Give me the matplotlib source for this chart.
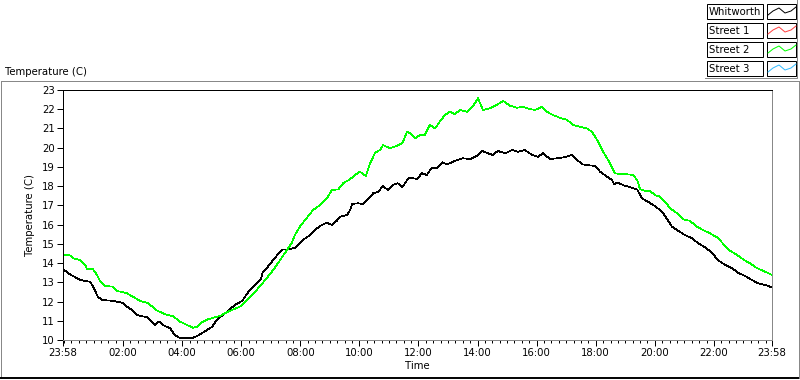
import numpy as np
from matplotlib import pyplot as plt
from matplotlib.lines import Line2D
from matplotlib.patches import Rectangle

font_size = 7.3
plt.rc('font', family='DejaVu Sans', size=font_size)

## series values, time in minutes after 23:58
t_whit = [0, 14, 35, 55, 61, 71, 79, 100, 120, 130, 140, 150, 171, 177, 187, 195, 203, 218, 227, 238,
          262, 272, 284, 303, 313, 325, 339, 349, 364, 378, 390, 402, 406, 416, 427, 437, 445, 457, 471, 481,
          492, 502, 512, 522, 536, 546, 556, 563, 577, 583, 587, 599, 609, 617, 624, 630, 640, 650, 660, 670,
          680, 689, 699, 705, 719, 729, 739, 749, 760, 770, 780, 790, 800, 812, 827, 841, 851, 863, 873, 883,
          898, 912, 924, 938, 953, 965, 975, 989, 1003, 1016, 1034, 1044, 1056, 1070, 1080, 1091, 1105, 1115, 1119, 1127,
          1137, 1152, 1166, 1176, 1188, 1202, 1217, 1227, 1237, 1249, 1263, 1278, 1290, 1304, 1318, 1330, 1345, 1359, 1371, 1385,
          1399, 1412, 1426, 1440]
whitworth = [13.68, 13.42, 13.12, 13.03, 12.77, 12.25, 12.08, 12.04, 11.94, 11.73, 11.56, 11.30, 11.18, 11.04, 10.78, 10.97, 10.78, 10.60, 10.26, 10.10,
             10.10, 10.20, 10.38, 10.69, 11.07, 11.30, 11.60, 11.82, 12.04, 12.55, 12.85, 13.16, 13.55, 13.81, 14.16, 14.47, 14.71, 14.71, 14.80, 15.03,
             15.29, 15.46, 15.72, 15.93, 16.10, 15.98, 16.20, 16.41, 16.50, 16.76, 17.07, 17.11, 17.07, 17.28, 17.45, 17.63, 17.71, 18.00, 17.80, 18.06,
             18.15, 17.94, 18.32, 18.45, 18.37, 18.67, 18.58, 18.96, 18.93, 19.24, 19.13, 19.24, 19.36, 19.45, 19.41, 19.58, 19.83, 19.71, 19.62, 19.83,
             19.71, 19.88, 19.79, 19.88, 19.62, 19.53, 19.71, 19.41, 19.45, 19.49, 19.62, 19.36, 19.13, 19.08, 19.05, 18.75, 18.49, 18.32, 18.11, 18.18,
             18.06, 17.94, 17.83, 17.37, 17.19, 16.97, 16.67, 16.28, 15.89, 15.69, 15.46, 15.29, 15.03, 14.82, 14.54, 14.16, 13.90, 13.73, 13.50, 13.33,
             13.12, 12.95, 12.86, 12.74]

t_st2 = [0, 14, 20, 35, 45, 49, 61, 69, 75, 85, 102, 110, 130, 142, 156, 173, 191, 211, 223, 238,
         252, 264, 272, 284, 294, 309, 319, 329, 343, 359, 378, 390, 400, 412, 427, 441, 455, 465, 471, 481,
         496, 508, 522, 536, 546, 559, 569, 583, 593, 603, 615, 624, 634, 644, 650, 664, 678, 689, 699, 705,
         715, 725, 735, 745, 756, 766, 776, 786, 796, 806, 821, 833, 843, 853, 867, 881, 894, 908, 922, 934,
         948, 959, 973, 983, 995, 1009, 1024, 1036, 1050, 1064, 1074, 1085, 1097, 1111, 1121, 1131, 1145, 1158, 1166, 1172,
         1182, 1192, 1202, 1213, 1223, 1233, 1247, 1259, 1273, 1288, 1300, 1314, 1328, 1340, 1355, 1369, 1381, 1395, 1410, 1422,
         1440]
street2 = [14.42, 14.40, 14.25, 14.16, 13.90, 13.68, 13.68, 13.38, 13.08, 12.81, 12.77, 12.55, 12.43, 12.25, 12.04, 11.91, 11.53, 11.30, 11.25, 10.95,
           10.78, 10.64, 10.69, 10.95, 11.07, 11.18, 11.25, 11.39, 11.56, 11.73, 12.17, 12.50, 12.80, 13.16, 13.64, 14.16, 14.68, 15.06, 15.46, 15.89,
           16.38, 16.76, 17.02, 17.37, 17.80, 17.83, 18.15, 18.36, 18.58, 18.75, 18.53, 19.19, 19.74, 19.88, 20.14, 19.97, 20.09, 20.23, 20.83, 20.74,
           20.48, 20.66, 20.66, 21.18, 21.00, 21.39, 21.70, 21.87, 21.74, 21.96, 21.87, 22.18, 22.57, 21.96, 22.05, 22.22, 22.43, 22.18, 22.08, 22.13,
           22.01, 21.96, 22.13, 21.87, 21.70, 21.56, 21.44, 21.18, 21.09, 21.00, 20.83, 20.40, 19.79, 19.19, 18.67, 18.63, 18.62, 18.58, 18.32, 17.84,
           17.76, 17.76, 17.54, 17.45, 17.19, 16.85, 16.59, 16.28, 16.20, 15.89, 15.72, 15.55, 15.34, 15.03, 14.64, 14.42, 14.20, 13.99, 13.73, 13.60,
           13.38]

tick_pos = [0, 122, 242, 362, 482, 602, 722, 842, 962, 1082, 1202, 1322, 1440]
tick_lab = ['23:58', '02:00', '04:00', '06:00', '08:00', '10:00', '12:00', '14:00', '16:00', '18:00', '20:00', '22:00', '23:58']
y_ticks = list(range(10, 24))

legend_names = ['Whitworth', 'Street 1', 'Street 2', 'Street 3']
legend_cols = ['black', '#ff4040', '#00ff00', '#33bbff']

fig = plt.figure(figsize=(8, 3.8), dpi=100)
W, H = 800.0, 380.0
px = 0.72  # one pixel line

def fx(x):
    return x / W

def fy(y):
    return 1 - y / H

ax = fig.add_axes([fx(63), fy(340), fx(772) - fx(63), fy(90) - fy(340)])
ax.plot(t_whit, whitworth, color=legend_cols[0], linewidth=0.5, antialiased=False)
ax.plot(t_st2, street2, color=legend_cols[2], linewidth=0.5, antialiased=False)

ax.set_xlim(0, 1440)
ax.set_ylim(10, 23)
ax.set_xticks(tick_pos)
ax.set_xticklabels(tick_lab)
ax.set_xticks([m for m in range(2, 1440, 15) if m not in tick_pos], minor=True)
ax.set_yticks(y_ticks)
ax.tick_params(axis='both', which='major', direction='out', length=4, width=px, pad=2, labelsize=font_size)
ax.tick_params(axis='x', which='minor', direction='out', length=2.5, width=px)
for s in ['top', 'left']:
    ax.spines[s].set_color('black')
    ax.spines[s].set_linewidth(px)
for s in ['bottom', 'right']:
    ax.spines[s].set_color('#888888')
    ax.spines[s].set_linewidth(px)
ax.set_xlabel('Time', fontsize=font_size, labelpad=2)
ax.set_ylabel('Temperature (C)', fontsize=font_size, labelpad=5)

## outer panel frame
fig.add_artist(Line2D([fx(0.5), fx(798)], [fy(81), fy(81)], color='#888888', lw=px))
fig.add_artist(Line2D([fx(0.5), fx(0.5)], [fy(81), fy(378)], color='#888888', lw=px))
fig.add_artist(Line2D([fx(0), fx(799)], [fy(378), fy(378)], color='black', lw=1.4))
fig.add_artist(Line2D([fx(798.5), fx(798.5)], [fy(81), fy(378)], color='#888888', lw=px))
fig.text(fx(5), fy(72), 'Temperature (C)', fontsize=font_size, va='center', ha='left')

## legend
fig.add_artist(Line2D([fx(705), fx(797), fx(797)], [fy(77.5), fy(77.5), fy(0)], color='#888888', lw=px))
wave_x = [0, 5, 11, 17, 23, 28]
wave_y = [3, -1, -4, 1, -1, -5]
for i, (name, col) in enumerate(zip(legend_names, legend_cols)):
    top = 4 + i * 19
    fig.add_artist(Rectangle((fx(707), fy(top + 15)), fx(763) - fx(707), fy(top) - fy(top + 15),
                             fill=False, edgecolor='black', lw=px))
    fig.text(fx(709), fy(top + 8), name, fontsize=font_size, va='center', ha='left')
    fig.add_artist(Rectangle((fx(767), fy(top + 15)), fx(796) - fx(767), fy(top) - fy(top + 15),
                             fill=False, edgecolor='black', lw=px))
    fig.add_artist(Line2D([fx(768 + d) for d in wave_x], [fy(top + 8 + d) for d in wave_y],
                          color=col, lw=px))

plt.savefig('out.png', dpi=100)
